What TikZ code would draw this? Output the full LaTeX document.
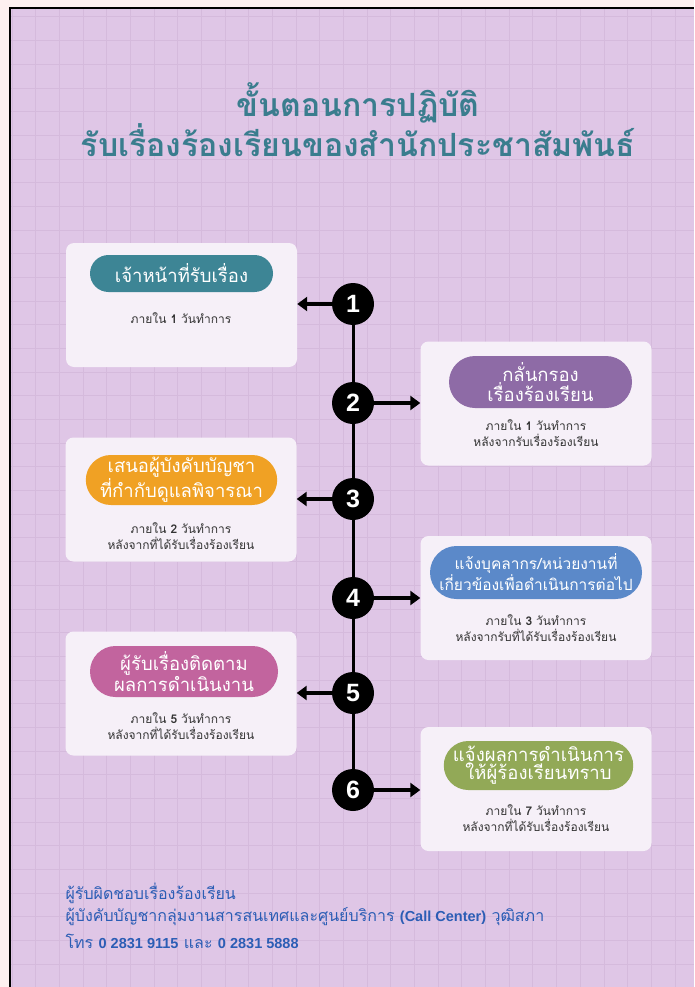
\documentclass[tikz,border=0pt]{standalone}
\usepackage{fontspec}
\newfontfamily\thai[Script=Thai]{Loma}
\newfontfamily\numf{Liberation Sans}
\usetikzlibrary{arrows.meta,shapes.misc}
\definecolor{outerpink}{HTML}{FDF0F0}
\definecolor{bgpurple}{HTML}{DFC6E6}
\definecolor{gridc}{HTML}{D5BADC}
\definecolor{cardfill}{HTML}{F6F0F8}
\definecolor{titlec}{HTML}{3A7D8E}
\definecolor{pteal}{HTML}{3D8595}
\definecolor{ppurple}{HTML}{8E6BA6}
\definecolor{porange}{HTML}{F0A124}
\definecolor{pblue}{HTML}{5B89C9}
\definecolor{ppink}{HTML}{C2649E}
\definecolor{pgreen}{HTML}{92A957}
\definecolor{footc}{HTML}{2B5DB5}
\definecolor{subtext}{HTML}{333333}
\tikzset{
 card/.style={fill=cardfill, rounded corners=8pt, draw=none, minimum width=231pt, minimum height=124pt, inner sep=0pt},
 pill/.style={rounded rectangle, fill=#1, text=white, font=\thai\fontsize{18.5}{18}\selectfont, align=center, inner sep=0pt},
 sub/.style={font=\thai\fontsize{12}{16}\selectfont, text=subtext, align=center},
 num/.style={circle, fill=black, minimum size=42pt, inner sep=0pt, text=white, font=\numf\bfseries\fontsize{25}{25}\selectfont},
 arr/.style={line width=3.2pt, -{Triangle[length=10pt,width=14pt]}},
 spine/.style={line width=3pt},
 titlet/.style={font=\thai\bfseries\fontsize{32}{32}\selectfont, text=titlec},
 foot/.style={font=\thai\fontsize{16}{16}\selectfont, text=footc, anchor=west}
}
\begin{document}
\begin{tikzpicture}[x=1pt,y=-1pt]
\useasboundingbox (0,0) rectangle (694,987);
% background
\fill[outerpink] (0,0) rectangle (694,987);
\fill[bgpurple] (10,8) rectangle (694,987);
\foreach \i in {0,...,29} {\draw[gridc, line width=1pt] ({12+23.68*\i},9) -- ({12+23.68*\i},987);}
\foreach \j in {0,...,41} {\draw[gridc, line width=1pt] (11,{17+23.68*\j}) -- (694,{17+23.68*\j});}
\draw[black, line width=2pt] (10,987) -- (10,8) -- (694,8);
% title
\node[titlet] (t1) at (358,103) {ขั้นตอนการปฏิบัติ};
\node[titlet] (t2) at (358,140) {รับเรื่องร้องเรียนของสำนักประชาสัมพันธ์};
% cards
\node[card] (b1) at (181.5,305) {};
\node[card] (b2) at (536,403.5) {};
\node[card] (b3) at (181,499.5) {};
\node[card] (b4) at (536,598) {};
\node[card] (b5) at (181,693.5) {};
\node[card] (b6) at (536,789) {};
% pills
\node[pill=pteal, minimum width=183pt, minimum height=37pt] (p1) at (181.5,273.5) {เจ้าหน้าที่รับเรื่อง};
\node[pill=ppurple, minimum width=183pt, minimum height=52pt] (p2) at (540.5,382) {กลั่นกรอง\\เรื่องร้องเรียน};
\node[pill=porange, minimum width=183pt, minimum height=50pt] (p3) at (181.5,480) {เสนอผู้บังคับบัญชา\\ที่กำกับดูแลพิจารณา};
\node[pill=pblue, minimum width=212pt, minimum height=53pt, font=\thai\fontsize{15.5}{17}\selectfont] (p4) at (536,572.5) {แจ้งบุคลากร/หน่วยงานที่\\เกี่ยวข้องเพื่อดำเนินการต่อไป};
\node[pill=ppink, minimum width=188pt, minimum height=51pt] (p5) at (184,671.5) {ผู้รับเรื่องติดตาม\\ผลการดำเนินงาน};
\node[pill=pgreen, minimum width=183pt, minimum height=49pt] (p6) at (538.5,765.5) {แจ้งผลการดำเนินการ\\ให้ผู้ร้องเรียนทราบ};
% sub texts
\node[sub] (s1) at (181,318) {ภายใน {\bfseries 1} วันทำการ};
\node[sub] (s2) at (536,433) {ภายใน {\bfseries 1} วันทำการ\\หลังจากรับเรื่องร้องเรียน};
\node[sub] (s3) at (181,536) {ภายใน {\bfseries 2} วันทำการ\\หลังจากที่ได้รับเรื่องร้องเรียน};
\node[sub] (s4) at (536,628) {ภายใน {\bfseries 3} วันทำการ\\หลังจากรับที่ได้รับเรื่องร้องเรียน};
\node[sub] (s5) at (181,726) {ภายใน {\bfseries 5} วันทำการ\\หลังจากที่ได้รับเรื่องร้องเรียน};
\node[sub] (s6) at (536,818) {ภายใน {\bfseries 7} วันทำการ\\หลังจากที่ได้รับเรื่องร้องเรียน};
% circles
\node[num] (c1) at (353,304) {1};
\node[num] (c2) at (353,403) {2};
\node[num] (c3) at (353,499) {3};
\node[num] (c4) at (353,598) {4};
\node[num] (c5) at (353,693) {5};
\node[num] (c6) at (353,790) {6};
\draw[spine] (c1.south) -- (c2.north);
\draw[spine] (c2.south) -- (c3.north);
\draw[spine] (c3.south) -- (c4.north);
\draw[spine] (c4.south) -- (c5.north);
\draw[spine] (c5.south) -- (c6.north);
% arrows
\draw[arr] (c1.west) -- (b1.east |- c1.west);
\draw[arr] (c2.east) -- (b2.west |- c2.east);
\draw[arr] (c3.west) -- (b3.east |- c3.west);
\draw[arr] (c4.east) -- (b4.west |- c4.east);
\draw[arr] (c5.west) -- (b5.east |- c5.west);
\draw[arr] (c6.east) -- (b6.west |- c6.east);
% footer
\node[foot] (f1) at (62,893) {ผู้รับผิดชอบเรื่องร้องเรียน};
\node[foot] (f2) at (62,917) {ผู้บังคับบัญชากลุ่มงานสารสนเทศและศูนย์บริการ {\numf\bfseries\fontsize{14.5}{16}\selectfont (Call Center)} วุฒิสภา};
\node[foot] (f3) at (62,941) {โทร {\numf\bfseries\fontsize{14.5}{16}\selectfont 0 2831 9115} และ {\numf\bfseries\fontsize{14.5}{16}\selectfont 0 2831 5888}};
\end{tikzpicture}
\end{document}
